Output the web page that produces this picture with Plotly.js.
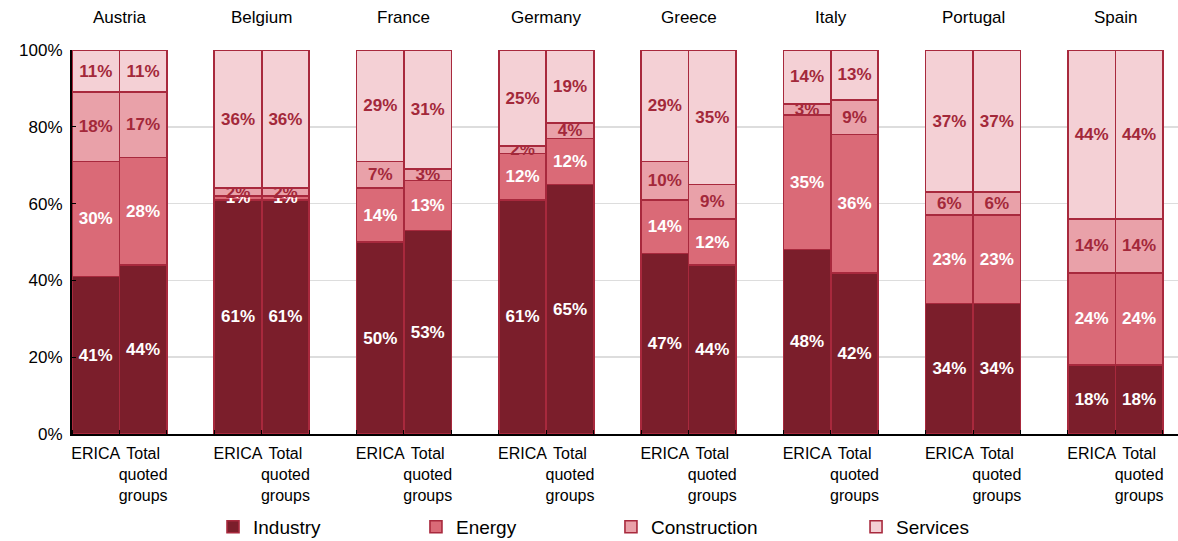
<!DOCTYPE html>
<html>
<head>
<meta charset="utf-8">
<script src="https://cdn.plot.ly/plotly-3.0.1.min.js"></script>
<style>html,body{margin:0;padding:0;background:#fff;}#chart{width:1178px;height:541px;}</style>
</head>
<body>
<div id="chart"></div>
<script>
const countries = ["Austria","Belgium","France","Germany","Greece","Italy","Portugal","Spain"];
const barLabels = ["ERICA","Total<br>quoted<br>groups"];
// values per country: [ERICA, Total quoted groups]
const industry     = [[41,44],[61,61],[50,53],[61,65],[47,44],[48,42],[34,34],[18,18]];
const energy       = [[30,28],[1,1],[14,13],[12,12],[14,12],[35,36],[23,23],[24,24]];
const construction = [[18,17],[2,2],[7,3],[2,4],[10,9],[3,9],[6,6],[14,14]];
const services     = [[11,11],[36,36],[29,31],[25,19],[29,35],[14,13],[37,37],[44,44]];

const seriesNames = ["Industry","Energy","Construction","Services"];
const seriesData = [industry, energy, construction, services];
const fillColors = ["#7B1E2B","#DA6A77","#E9A1A9","#F4D0D5"];
const textColors = ["#FFFFFF","#FFFFFF","#A3283A","#A3283A"];
const lineColor = "#A8293D";

// x positions: each country gets 3 slots (ERICA, Total, gap)
const xs = [], tickText = [];
countries.forEach((c, i) => {
  xs.push(3*i + 0.5, 3*i + 1.5);
});
const tickVals = xs.slice();
countries.forEach(() => { tickText.push(barLabels[0], barLabels[1]); });

const legendNames = ["legend","legend2","legend3","legend4"];
const traces = seriesData.map((data, k) => {
  const ys = [];
  data.forEach(pair => ys.push(pair[0], pair[1]));
  return {
    type: "bar",
    name: seriesNames[k],
    x: xs,
    y: ys,
    width: 1,
    legend: legendNames[k],
    showlegend: true,
    marker: {color: fillColors[k], line: {color: lineColor, width: 1.6}},
    text: ys.map(v => v + "%"),
    texttemplate: "<b>%{text}</b>",
    textposition: "inside",
    insidetextanchor: "middle",
    textangle: 0,
    insidetextfont: {family: "Liberation Sans, Arial, sans-serif", size: 17, color: textColors[k]},
    hoverinfo: "name+y"
  };
});

const annotations = countries.map((c, i) => ({
  x: 3*i + 1, xref: "x", y: 1, yref: "paper", yshift: 33,
  text: c, showarrow: false, xanchor: "center", yanchor: "middle",
  font: {family: "Liberation Sans, Arial, sans-serif", size: 17, color: "#000"}
}));

const legendX = [0.1275, 0.3110, 0.4873, 0.7089];
const layout = {
  width: 1178, height: 541,
  margin: {l: 72, r: 0, t: 50, b: 107, autoexpand: false},
  paper_bgcolor: "#fff", plot_bgcolor: "#fff",
  barmode: "stack", bargap: 0,
  showlegend: true,
  font: {family: "Liberation Sans, Arial, sans-serif", size: 16, color: "#000"},
  uniformtext: {mode: "show", minsize: 17},
  xaxis: {
    range: [0, 23.32], tickmode: "array", tickvals: tickVals, ticktext: tickText,
    tickangle: 0, automargin: false, ticklabelstandoff: 4,
    showgrid: false, zeroline: false, showline: true, linecolor: "#000", linewidth: 2,
    ticks: "", tickfont: {size: 16, color: "#000"},
    minor: {ticks: "inside", tick0: 0, dtick: 1, ticklen: 4, tickcolor: "#000", showgrid: false}
  },
  yaxis: {
    range: [0, 100], tickvals: [0,20,40,60,80,100], ticktext: ["0%","20%","40%","60%","80%","100%"],
    showgrid: true, gridcolor: "#DDDDDD", gridwidth: 1.5, zeroline: false, automargin: false,
    showline: true, linecolor: "#000", linewidth: 2, ticks: "inside", ticklen: 4, tickcolor: "#000",
    tickfont: {size: 17, color: "#000"}, ticklabelstandoff: 4
  },
  annotations: annotations
};
legendNames.forEach((ln, k) => {
  layout[ln] = {
    x: legendX[k], xanchor: "left", y: -0.242, yanchor: "middle",
    orientation: "h", bgcolor: "rgba(0,0,0,0)",
    font: {family: "Liberation Sans, Arial, sans-serif", size: 19, color: "#000"}
  };
});

Plotly.newPlot("chart", traces, layout, {displayModeBar: false, staticPlot: true});
</script>
</body>
</html>
